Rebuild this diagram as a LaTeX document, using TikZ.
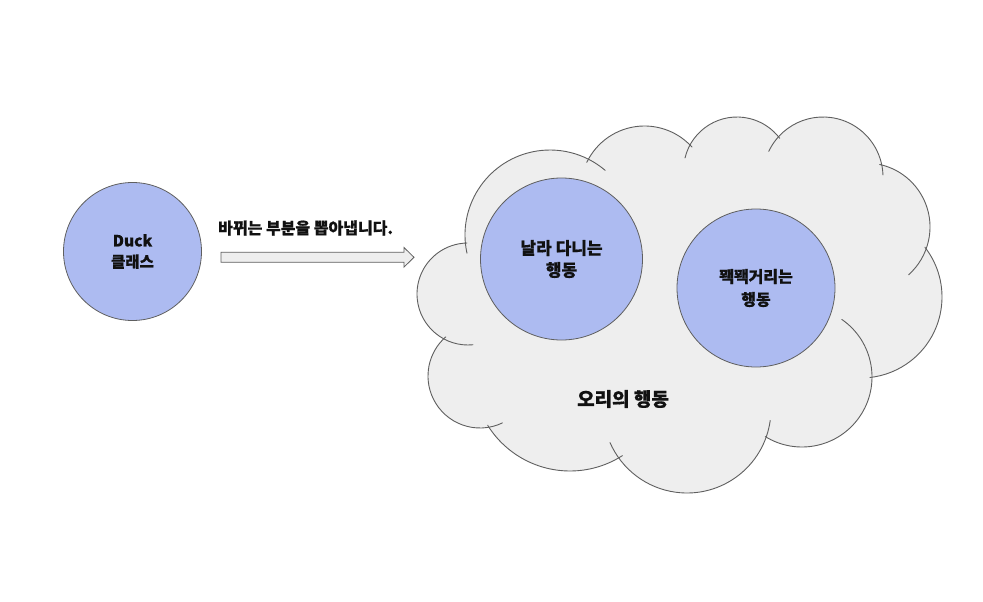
\documentclass[tikz,border=0pt]{standalone}
\usepackage{fontspec}
\newfontfamily\kr{Noto Sans CJK KR}[BoldFeatures={FakeBold=0.6}]
\definecolor{cloudgray}{RGB}{238,238,238}
\definecolor{edgegray}{RGB}{95,95,95}
\definecolor{bluefill}{RGB}{173,187,241}
\definecolor{inkblack}{RGB}{17,17,17}
\tikzset{
  cloudfill/.style={fill=cloudgray},
  cloudline/.style={draw=edgegray, line width=0.9pt, line cap=round},
  bluecirc/.style={circle, fill=bluefill, draw=edgegray, line width=0.8pt, inner sep=0pt, align=center, text=inkblack},
  labeltext/.style={inner sep=0pt, text=inkblack},
  blockarrow/.style={fill=cloudgray, draw=edgegray, line width=0.8pt, line join=miter}
}
\newcommand\cloudpuff[7]{%
  \pgfmathsetmacro\pa{atan2(#5-#2,#4-#1)}%
  \pgfmathsetmacro\pb{atan2(#7-#2,#6-#1)}%
  \pgfmathsetmacro\pbb{ifthenelse(\pb<\pa,\pb+360,\pb)}%
  \draw[cloudline] (#1,#2) ++(\pa:#3) arc[start angle=\pa, end angle=\pbb, radius=#3];%
}
\begin{document}
\begin{tikzpicture}[x=1pt, y=-1pt]
\useasboundingbox (0,0) rectangle (983,602);
\fill[white] (0,0) rectangle (983,602);

% cloud body
\fill[cloudfill] (468,294) -- (550,235) -- (644.5,190) -- (737,170.5) -- (823,177) -- (866,227) -- (861,297) -- (802,377) -- (687,409) -- (570,374) -- (480,376) -- cycle;
\fill[cloudfill] (468,294) circle[radius=51];
\fill[cloudfill] (550,235) circle[radius=85];
\fill[cloudfill] (644.5,190) circle[radius=64];
\fill[cloudfill] (737,170.5) circle[radius=53.5];
\fill[cloudfill] (823,177) circle[radius=60];
\fill[cloudfill] (866,227) circle[radius=64];
\fill[cloudfill] (861,297) circle[radius=81];
\fill[cloudfill] (802,377) circle[radius=70];
\fill[cloudfill] (687,409) circle[radius=84];
\fill[cloudfill] (570,374) circle[radius=97];
\fill[cloudfill] (480,376) circle[radius=52];

% cloud outline (centre x, centre y, radius, start x, start y, end x, end y)
\cloudpuff{468}{294}{51}{473}{345}{467}{242}
\cloudpuff{550}{235}{85}{468}{253}{603}{173}
\cloudpuff{644.5}{190}{64}{586}{162}{692}{147}
\cloudpuff{737}{170.5}{53.5}{685}{158}{780}{138}
\cloudpuff{823}{177}{60}{770}{152}{883}{175}
\cloudpuff{866}{227}{64}{880}{163}{907}{273}
\cloudpuff{861}{297}{81}{924}{248}{870}{378}
\cloudpuff{802}{377}{70}{840}{322}{765}{437}
\cloudpuff{687}{409}{84}{767}{420}{609}{443}
\cloudpuff{570}{374}{97}{622}{455}{488}{425}
\cloudpuff{480}{376}{52}{502}{422}{445}{336}

% circles
\node[bluecirc, minimum size=138pt, font=\kr\bfseries\fontsize{15.5}{21}\selectfont] (duck) at (132.5,251.5) {Duck\\클래스};
\node[bluecirc, minimum size=162pt, font=\kr\bfseries\fontsize{17}{22}\selectfont] (fly) at (561.5,259) {날라 다니는\\행동};
\node[bluecirc, minimum size=158pt, font=\kr\bfseries\fontsize{16}{23}\selectfont] (quack) at (756,288) {꽥꽥거리는\\행동};
\node[labeltext, font=\kr\bfseries\fontsize{19}{22}\selectfont] (behav) at (623,399) {오리의 행동};

% block arrow
\coordinate (a1) at (221,252.3);
\coordinate (a2) at (404,252.3);
\coordinate (a3) at (404,247.5);
\coordinate (a4) at (414,257.3);
\coordinate (a5) at (404,267.1);
\coordinate (a6) at (404,262.3);
\coordinate (a7) at (221,262.3);
\draw[blockarrow] (a1) -- (a2) -- (a3) -- (a4) -- (a5) -- (a6) -- (a7) -- cycle;
\node[labeltext, anchor=west, font=\kr\bfseries\fontsize{16}{20}\selectfont] (extract) at (218,228) {바뀌는 부분을 뽑아냅니다.};
\end{tikzpicture}
\end{document}
